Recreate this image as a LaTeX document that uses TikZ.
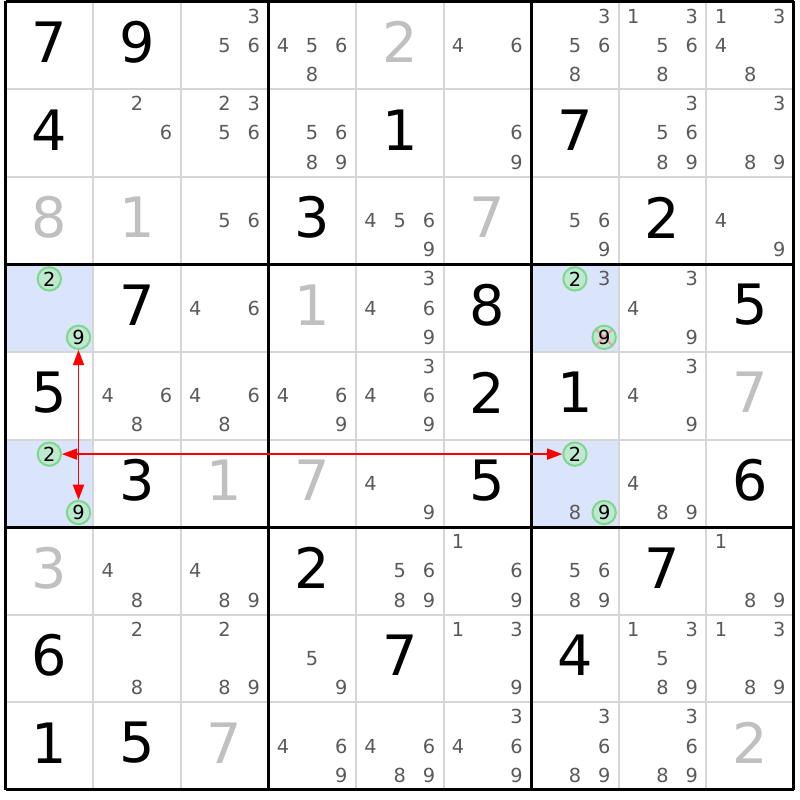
\documentclass[tikz,border=0pt]{standalone}
\usepackage{fontspec}
\setmainfont{DejaVu Sans}
\usetikzlibrary{arrows.meta}
\definecolor{candgray}{RGB}{90,90,90}
\definecolor{solvedgray}{RGB}{192,192,192}
\definecolor{gridgray}{RGB}{214,214,214}
\definecolor{pairblue}{RGB}{218,228,250}
\definecolor{ringgreen}{RGB}{125,215,140}
\definecolor{ringfill}{RGB}{190,232,208}
\definecolor{crosspink}{RGB}{245,150,160}
\tikzset{
  given/.style={font=\fontsize{47.5}{47.5}\selectfont,inner sep=0pt},
  solved/.style={given,text=solvedgray},
  pencil/.style={font=\fontsize{16.5}{16.5}\selectfont,inner sep=0pt,text=candgray},
  ring/.style={circle,draw=ringgreen,fill=ringfill,line width=1.7pt,minimum size=0.7cm,
    inner sep=0pt,font=\fontsize{16.5}{16.5}\selectfont},
  struck/.style={path picture={\draw[crosspink,line width=1.7pt]
    ([shift={(-6.5pt,-6.5pt)}]path picture bounding box.center) -- ++(13pt,13pt)
    ([shift={(-6.5pt,6.5pt)}]path picture bounding box.center) -- ++(13pt,-13pt);}},
  thinline/.style={gridgray,line width=1.7pt},
  boxline/.style={black,line width=2.6pt},
  link/.style={red,line width=1.3pt,{Triangle[length=13pt,width=9.5pt]}-{Triangle[length=13pt,width=9.5pt]}}
}
\newcommand{\pencil}[3]{%
  \foreach \d in {#3}{%
    \pgfmathsetmacro{\px}{#2-0.5+(mod(\d-1,3)-1)/3}%
    \pgfmathsetmacro{\py}{#1-0.5+(div(\d-1,3)-1)/3}%
    \node[pencil] (p#1#2\d) at (\px,\py) {\d};}}
\begin{document}
\begin{tikzpicture}[x=2.628cm,y=-2.628cm]
	\fill[white] (-0.063,-0.017) rectangle (9.069,9.115);
	\useasboundingbox (-0.063,-0.017) rectangle (9.069,9.115);
	\foreach \r/\c in {4/1,6/1,4/7,6/7}
		\fill[pairblue] (\c-1,\r-1) rectangle (\c,\r);
	\foreach \i in {1,2,4,5,7,8} {
		\draw[thinline] (\i,0) -- (\i,9);
		\draw[thinline] (0,\i) -- (9,\i);
	}
	\foreach \i in {0,3,6,9} {
		\draw[boxline] (\i,0) -- (\i,9);
		\draw[boxline] (0,\i) -- (9,\i);
	}
	\foreach \r/\c/\v in {1/1/7,1/2/9,2/1/4,2/5/1,2/7/7,3/4/3,3/8/2,4/2/7,4/6/8,4/9/5,
		5/1/5,5/6/2,5/7/1,6/2/3,6/6/5,6/9/6,7/4/2,7/8/7,8/1/6,8/5/7,8/7/4,9/1/1,9/2/5}
		\node[given] (g\r\c) at (\c-0.5,\r-0.535) {\v};
	\foreach \r/\c/\v in {1/5/2,3/1/8,3/2/1,3/6/7,4/4/1,5/9/7,6/3/1,6/4/7,7/1/3,9/3/7,9/9/2}
		\node[solved] (s\r\c) at (\c-0.5,\r-0.535) {\v};
	\pencil{1}{3}{3,5,6} \pencil{1}{4}{4,5,6,8} \pencil{1}{6}{4,6} \pencil{1}{7}{3,5,6,8}
	\pencil{1}{8}{1,3,5,6,8} \pencil{1}{9}{1,3,4,8}
	\pencil{2}{2}{2,6} \pencil{2}{3}{2,3,5,6} \pencil{2}{4}{5,6,8,9} \pencil{2}{6}{6,9}
	\pencil{2}{8}{3,5,6,8,9} \pencil{2}{9}{3,8,9}
	\pencil{3}{3}{5,6} \pencil{3}{5}{4,5,6,9} \pencil{3}{7}{5,6,9} \pencil{3}{9}{4,9}
	\pencil{4}{1}{2,9} \pencil{4}{3}{4,6} \pencil{4}{5}{3,4,6,9} \pencil{4}{7}{2,3,9} \pencil{4}{8}{3,4,9}
	\pencil{5}{2}{4,6,8} \pencil{5}{3}{4,6,8} \pencil{5}{4}{4,6,9} \pencil{5}{5}{3,4,6,9} \pencil{5}{8}{3,4,9}
	\pencil{6}{1}{2,9} \pencil{6}{5}{4,9} \pencil{6}{7}{2,8,9} \pencil{6}{8}{4,8,9}
	\pencil{7}{2}{4,8} \pencil{7}{3}{4,8,9} \pencil{7}{5}{5,6,8,9} \pencil{7}{6}{1,6,9}
	\pencil{7}{7}{5,6,8,9} \pencil{7}{9}{1,8,9}
	\pencil{8}{2}{2,8} \pencil{8}{3}{2,8,9} \pencil{8}{4}{5,9} \pencil{8}{6}{1,3,9}
	\pencil{8}{8}{1,3,5,8,9} \pencil{8}{9}{1,3,8,9}
	\pencil{9}{4}{4,6,9} \pencil{9}{5}{4,6,8,9} \pencil{9}{6}{3,4,6,9} \pencil{9}{7}{3,6,8,9}
	\pencil{9}{8}{3,6,8,9}
	\foreach \r/\c/\d in {4/1/2,4/1/9,6/1/2,6/1/9,4/7/2,6/7/2,6/7/9}
		\node[ring] (k\r\c\d) at (p\r\c\d) {\d};
	\node[ring,struck] (k479) at (p479) {9};
	\draw[link] (k419) -- (k619);
	\draw[link] (k612) -- (k672);
\end{tikzpicture}
\end{document}
